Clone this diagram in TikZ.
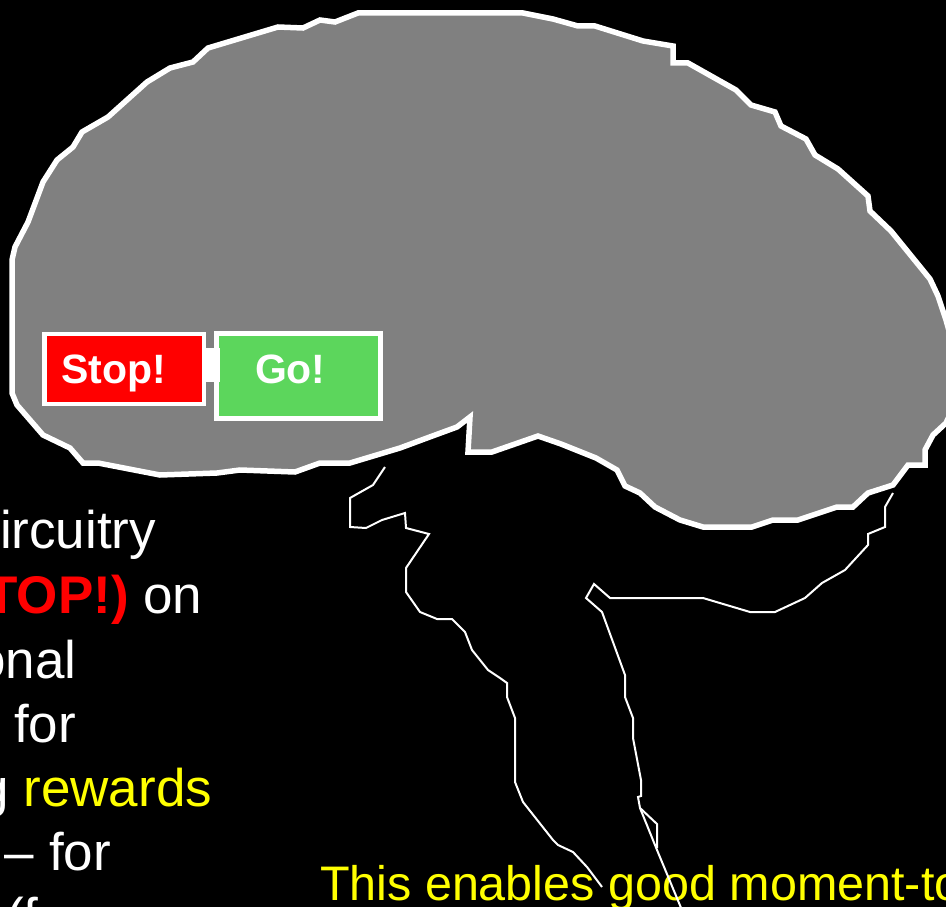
\documentclass[tikz,border=0pt]{standalone}
\usepackage{fontspec}
\setmainfont{Liberation Sans}
\definecolor{braingray}{RGB}{128,128,128}
\definecolor{stopred}{RGB}{255,0,0}
\definecolor{gogreen}{RGB}{92,214,92}
\definecolor{hilite}{RGB}{255,255,0}
\begin{document}
\begin{tikzpicture}[x=1pt,y=-1pt,
  cortex/.style={draw=white,line width=5.5pt,line join=miter,fill=braingray},
  stem/.style={draw=white,line width=2pt,line join=miter},
  boxbase/.style={draw=white,line width=4.5pt,inner sep=0pt,outer sep=0pt},
  boxlabel/.style={text=white,font=\fontsize{41}{48}\selectfont\bfseries,anchor=base west,inner sep=0pt,outer sep=0pt},
  body/.style={text=white,font=\fontsize{53}{64}\selectfont,anchor=base west,inner sep=0pt,outer sep=0pt},
  caption/.style={text=hilite,font=\fontsize{48.5}{58}\selectfont,anchor=base west,inner sep=0pt,outer sep=0pt}]
\useasboundingbox (0,0) rectangle (946,907);
\fill[black] (0,0) rectangle (946,907);
\clip (0,0) rectangle (946,907);

% cerebrum
\path[cortex] (358,13) -- (523,13) -- (553,19) -- (578,26) -- (595,26) -- (643,41)
  -- (673,46) -- (673,63) -- (688,63) -- (736,90) -- (751,105) -- (775,112)
  -- (781,126) -- (806,139) -- (815,155) -- (838,169) -- (868,196) -- (870,211)
  -- (891,231) -- (930,279) -- (938,296) -- (946,320) -- (953,345) -- (953,408)
  -- (946,423) -- (933,435) -- (925,450) -- (925,465) -- (908,465) -- (893,485)
  -- (868,493) -- (853,507) -- (837,507) -- (798,520) -- (773,520) -- (752,527)
  -- (703,527) -- (680,520) -- (655,507) -- (640,493) -- (625,486) -- (617,470)
  -- (596,458) -- (561,444) -- (538,436) -- (492,452) -- (468,452) -- (470,417)
  -- (457,427) -- (427,438) -- (400,448) -- (350,463) -- (320,463) -- (295,472)
  -- (240,470) -- (217,473) -- (160,475) -- (98,463) -- (83,463) -- (70,448)
  -- (43,435) -- (17,405) -- (12,393) -- (12,260) -- (15,247) -- (28,222)
  -- (43,182) -- (57,160) -- (73,147) -- (82,132) -- (108,117) -- (147,82)
  -- (170,68) -- (193,62) -- (208,48) -- (278,27) -- (303,28) -- (320,20)
  -- (335,22) -- cycle;

% stop / go boxes
\node[boxbase,fill=stopred,minimum width=159.5pt,minimum height=70pt] (stop) at (124.25,369) {};
\node[boxbase,fill=gogreen,minimum width=164pt,minimum height=85pt] (go) at (298.5,376) {};
\node[fill=white,inner sep=0pt,outer sep=0pt,minimum width=15pt,minimum height=34pt] (link) at (212,365) {};
\node[boxlabel] (stoptext) at (61.5,383) {Stop!};
\node[boxlabel] (gotext) at (255,383) {Go!};

% left column text
\node[body] (l1) at (0,548) {ircuitry};
\node[body] (l2) at (-14.5,613) {\textcolor{stopred}{\bfseries TOP!)} on};
\node[body] (l3) at (-23.5,678) {onal};
\node[body] (l4) at (14,742) {for};
\node[body] (l5) at (-20.6,806) {g \textcolor{hilite}{rewards}};
\node[body] (l6) at (5,870) {– for};
\node[body] (l7) at (6,935) {(f};

% bottom caption
\node[caption] (cap) at (320,900) {This enables good moment-to};

% brainstem and cerebellum outlines
\draw[stem] (385,467) -- (373,485) -- (350,498) -- (350,527) -- (366,528)
  -- (382,520) -- (405,513) -- (406,528) -- (429,534) -- (406,568) -- (406,592)
  -- (420,612) -- (437,619) -- (452,619) -- (465,632) -- (472,650) -- (488,670)
  -- (500,678) -- (507,683) -- (507,697) -- (515,718) -- (515,782) -- (523,802)
  -- (553,840) -- (558,845) -- (573,852) -- (587,867) -- (602,887);
\draw[stem] (893,493) -- (885,507) -- (885,527) -- (868,534) -- (868,545)
  -- (845,570) -- (822,583) -- (805,598) -- (775,612) -- (750,612) -- (703,598)
  -- (610,598) -- (594,584) -- (586,598) -- (602,612) -- (625,675) -- (625,697)
  -- (633,718) -- (633,738) -- (641,780) -- (641,796) -- (638,797) -- (640,808)
  -- (657,824) -- (657,848);
\draw[stem] (640,808) -- (657,850) -- (684,915);
\end{tikzpicture}
\end{document}
